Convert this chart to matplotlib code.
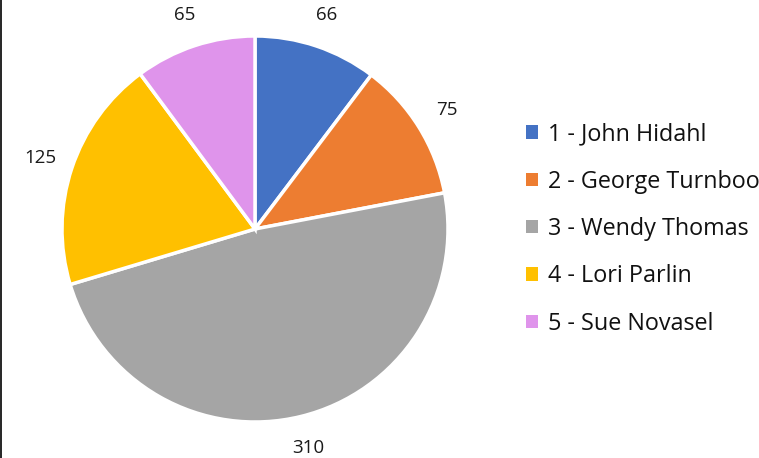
import matplotlib
matplotlib.use("Agg")
import matplotlib.pyplot as plt
from matplotlib.lines import Line2D
from matplotlib.patches import Patch

labels = ["1 - John Hidahl", "2 - George Turnboo", "3 - Wendy Thomas", "4 - Lori Parlin", "5 - Sue Novasel"]
values = [66, 75, 310, 125, 65]
colors = ["#4472C4", "#ED7D31", "#A5A5A5", "#FFC000", "#DF94EB"]

plt.rcParams['font.family'] = ['Open Sans', 'DejaVu Sans']

W, H = 759, 458
fig = plt.figure(figsize=(W/100, H/100), dpi=100)
ax = fig.add_axes([0, 0, 1, 1])
cx, cy, r = 255, 229, 193

wedges, texts = ax.pie(values, colors=colors, startangle=90, counterclock=False,
                       radius=1, labels=[str(v) for v in values], labeldistance=1.17,
                       wedgeprops=dict(edgecolor='white', linewidth=2.5),
                       textprops=dict(fontsize=13.5, color='#1a1a1a'))
for t in texts:
    t.set_ha('center'); t.set_va('center')
ax.set_aspect('auto')
ax.set_xlim(-cx/r, (W-cx)/r)
ax.set_ylim(-(H-cy)/r, cy/r)
ax.axis('off')

handles = [Patch(facecolor=c, edgecolor='none') for c in colors]
leg = fig.legend(handles, labels, loc='center left', bbox_to_anchor=(526/W, 1-229/H),
                 frameon=False, fontsize=16.8, handlelength=0.5, handleheight=0.5,
                 handletextpad=0.45, labelspacing=1.0, borderaxespad=0, borderpad=0)
for t in leg.get_texts():
    t.set_color('#111111')

fig.add_artist(Line2D([0.7/W, 0.7/W], [0, 1], color='black', linewidth=1.2, transform=fig.transFigure))
fig.savefig("out.png", dpi=100)
